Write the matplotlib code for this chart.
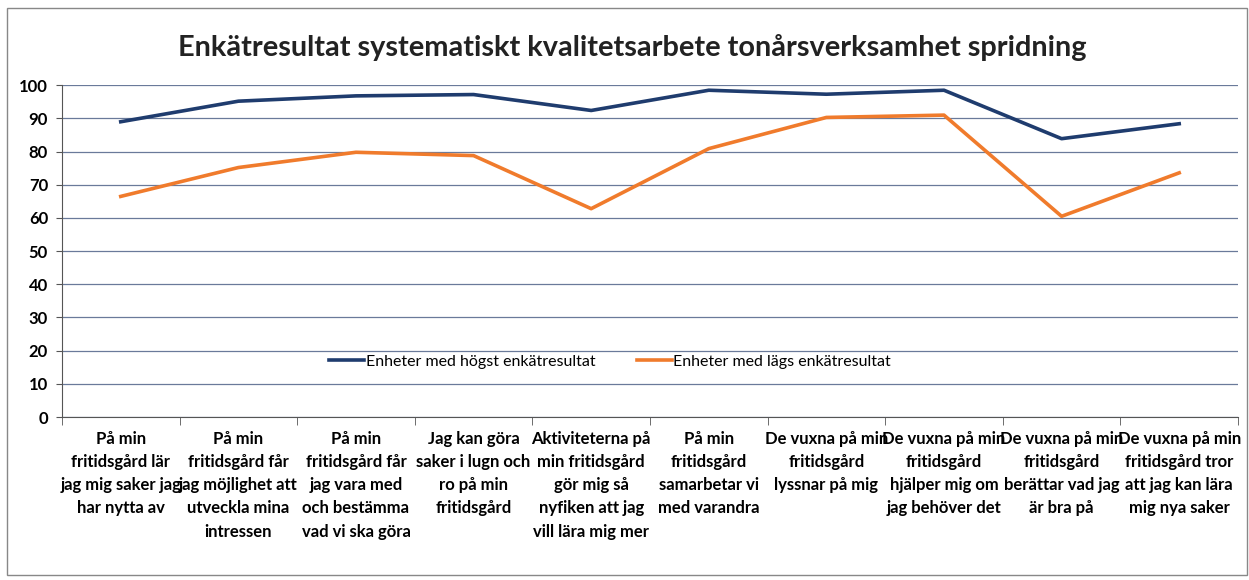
import matplotlib

matplotlib.use("Agg")
import matplotlib.pyplot as plt
import numpy as np
from matplotlib.patches import Rectangle

TITLE = "Enkätresultat systematiskt kvalitetsarbete tonårsverksamhet spridning"

categories = [
    "På min\nfritidsgård lär\njag mig saker jag\nhar nytta av",
    "På min\nfritidsgård får\njag möjlighet att\nutveckla mina\nintressen",
    "På min\nfritidsgård får\njag vara med\noch bestämma\nvad vi ska göra",
    "Jag kan göra\nsaker i lugn och\nro på min\nfritidsgård",
    "Aktiviteterna på\nmin fritidsgård\ngör mig så\nnyfiken att jag\nvill lära mig mer",
    "På min\nfritidsgård\nsamarbetar vi\nmed varandra",
    "De vuxna på min\nfritidsgård\nlyssnar på mig",
    "De vuxna på min\nfritidsgård\nhjälper mig om\njag behöver det",
    "De vuxna på min\nfritidsgård\nberättar vad jag\när bra på",
    "De vuxna på min\nfritidsgård tror\natt jag kan lära\nmig nya saker",
]
high_label = "Enheter med högst enkätresultat"
low_label = "Enheter med lägs enkätresultat"
high_values = [89.0, 95.2, 96.8, 97.2, 92.4, 98.5, 97.3, 98.5, 83.9, 88.4]
low_values = [66.5, 75.2, 79.8, 78.8, 62.8, 80.9, 90.3, 91.0, 60.5, 73.6]

plt.rcParams["font.family"] = ["Lato", "DejaVu Sans"]

fig = plt.figure(figsize=(12.49, 5.80), dpi=100)
ax = fig.add_axes([0.0496, 0.281, 0.9416, 0.572])

x = np.arange(len(categories))
ax.plot(x, high_values, color="#1f3c6e", lw=2.6, label=high_label)
ax.plot(x, low_values, color="#f07b2c", lw=2.6, label=low_label)

ax.set_xlim(-0.5, len(categories) - 0.5)
ax.set_ylim(0, 100)
ax.set_yticks(range(0, 101, 10))
ax.tick_params(axis="y", labelsize=12, length=4, color="#555555", pad=6)
for lbl in ax.get_yticklabels():
    lbl.set_fontweight("bold")
ax.grid(axis="y", color="#6a7a9a", lw=0.9)
ax.set_axisbelow(True)

ax.set_xticks(x)
ax.set_xticklabels(categories, fontsize=12, fontweight="bold",
                   linespacing=1.55, va="top")
ax.tick_params(axis="x", length=0, pad=10)
ax.set_xticks(np.arange(-0.5, len(categories), 1.0), minor=True)
ax.tick_params(axis="x", which="minor", length=6, color="#555555")

for side in ["top", "right"]:
    ax.spines[side].set_visible(False)
ax.spines["left"].set_color("#555555")
ax.spines["bottom"].set_color("#555555")

ax.legend(loc="center", bbox_to_anchor=(0.466, 0.166), ncol=2, frameon=False,
          fontsize=11.5, handlelength=2.2, handletextpad=0.1,
          columnspacing=2.6)

fig.text(0.506, 0.918, TITLE, ha="center", va="center", fontsize=20.8,
         fontweight="bold", color="#222222")

fig.add_artist(Rectangle((0.006, 0.008), 0.992, 0.978, transform=fig.transFigure,
                         fill=False, edgecolor="#888888", lw=1.0))

fig.savefig("out.png", dpi=100)
